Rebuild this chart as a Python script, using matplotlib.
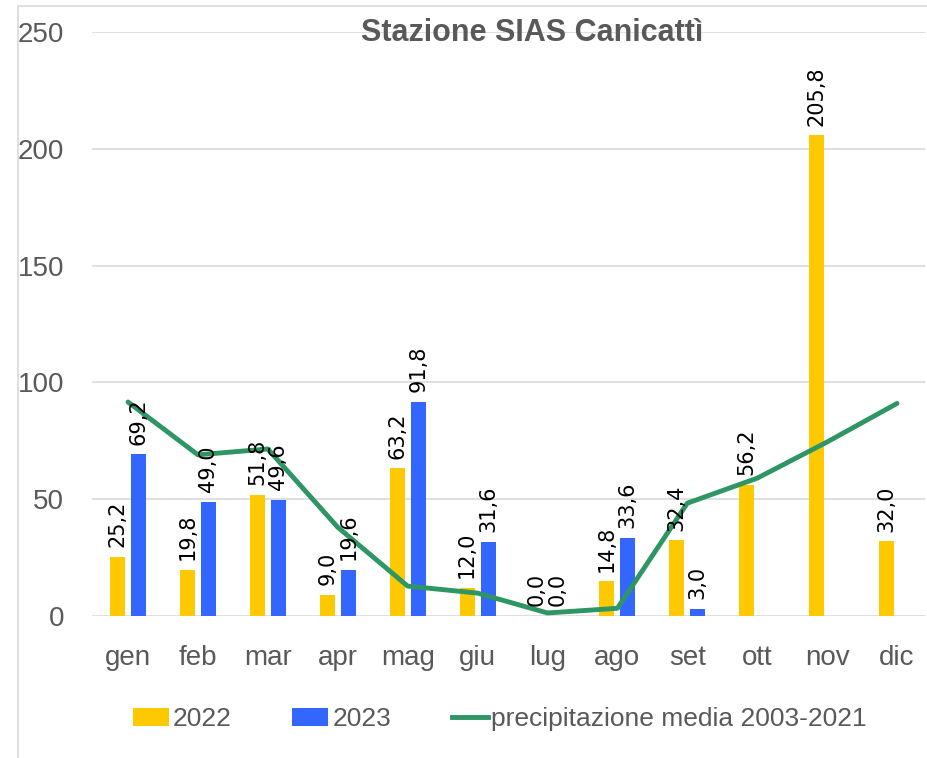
import numpy as np
import matplotlib.pyplot as plt
from matplotlib.patches import Patch, Rectangle
from matplotlib.lines import Line2D

mesi = ["gen", "feb", "mar", "apr", "mag", "giu", "lug", "ago", "set", "ott", "nov", "dic"]
pioggia_2022 = [25.2, 19.8, 51.8, 9.0, 63.2, 12.0, 0.0, 14.8, 32.4, 56.2, 205.8, 32.0]
pioggia_2023 = [69.2, 49.0, 49.6, 19.6, 91.8, 31.6, 0.0, 33.6, 3.0, None, None, None]
media_2003_2021 = [91.6, 69.0, 71.5, 38.0, 12.8, 9.8, 1.3, 3.3, 48.3, 59.0, 74.5, 91.0]

giallo = "#FFC900"
blu = "#3366FF"
verde = "#2E9565"
grigio = "#595959"

plt.rcParams['font.family'] = ['Liberation Sans', 'DejaVu Sans']

fig = plt.figure(figsize=(9.27, 7.58), dpi=100)
ax = fig.add_axes([92 / 927, 1 - 616 / 758, 833 / 927, 584 / 758])

# bordo esterno del grafico
fig.patches.append(Rectangle((18 / 927, -0.01), 1.0, 1 - 6 / 758 + 0.01, transform=fig.transFigure,
                             fill=False, edgecolor="#D9D9D9", linewidth=1.2))

x = np.arange(len(mesi))
w = 0.215
off = 0.15

y22 = np.array(pioggia_2022, dtype=float)
y23 = np.array([np.nan if v is None else v for v in pioggia_2023], dtype=float)

ax.bar(x - off, y22, w, color=giallo, zorder=2)
ax.bar(x + off, np.nan_to_num(y23), w, color=blu, zorder=2)
ax.plot(x, media_2003_2021, color=verde, linewidth=3.5, solid_capstyle="round", zorder=3)


def etichetta(xx, v):
    ax.annotate(f"{v:.1f}".replace(".", ","), (xx, v), xytext=(0, 7), textcoords="offset points",
                rotation=90, ha="center", va="bottom", fontsize=15, family="DejaVu Sans", zorder=4)


# etichette dei valori
for i in range(len(mesi)):
    etichetta(x[i] - off, y22[i])
    if not np.isnan(y23[i]):
        etichetta(x[i] + off, y23[i])

ax.set_ylim(0, 250)
ax.set_xlim(-0.515, 11.4)
ax.set_yticks([0, 50, 100, 150, 200, 250])
ax.set_xticks(x)
ax.set_xticklabels(mesi)
ax.yaxis.grid(True, color="#D9D9D9", linewidth=1.2, zorder=0)
ax.set_axisbelow(True)
for s in ax.spines.values():
    s.set_visible(False)
ax.tick_params(axis="both", length=0, labelsize=20, labelcolor=grigio)
ax.tick_params(axis="y", pad=20)
ax.tick_params(axis="x", pad=21)

fig.text(532 / 927, 1 - 33 / 758, "Stazione SIAS Canicattì", ha="center", va="center",
         fontsize=22, fontweight="bold", color=grigio)

handles = [Patch(facecolor=giallo), Patch(facecolor=blu), Line2D([0], [0], color=verde, linewidth=3.5)]
etichette = ["2022", "2023", "precipitazione media 2003-2021"]
leg = fig.legend(handles, etichette, loc="center", bbox_to_anchor=(500 / 927, 1 - 719 / 758), ncol=3,
                 frameon=False, fontsize=19, handlelength=1.36, handletextpad=0.15, columnspacing=2.3)
for t in leg.get_texts():
    t.set_color(grigio)

fig.savefig("out.png", dpi=100)
